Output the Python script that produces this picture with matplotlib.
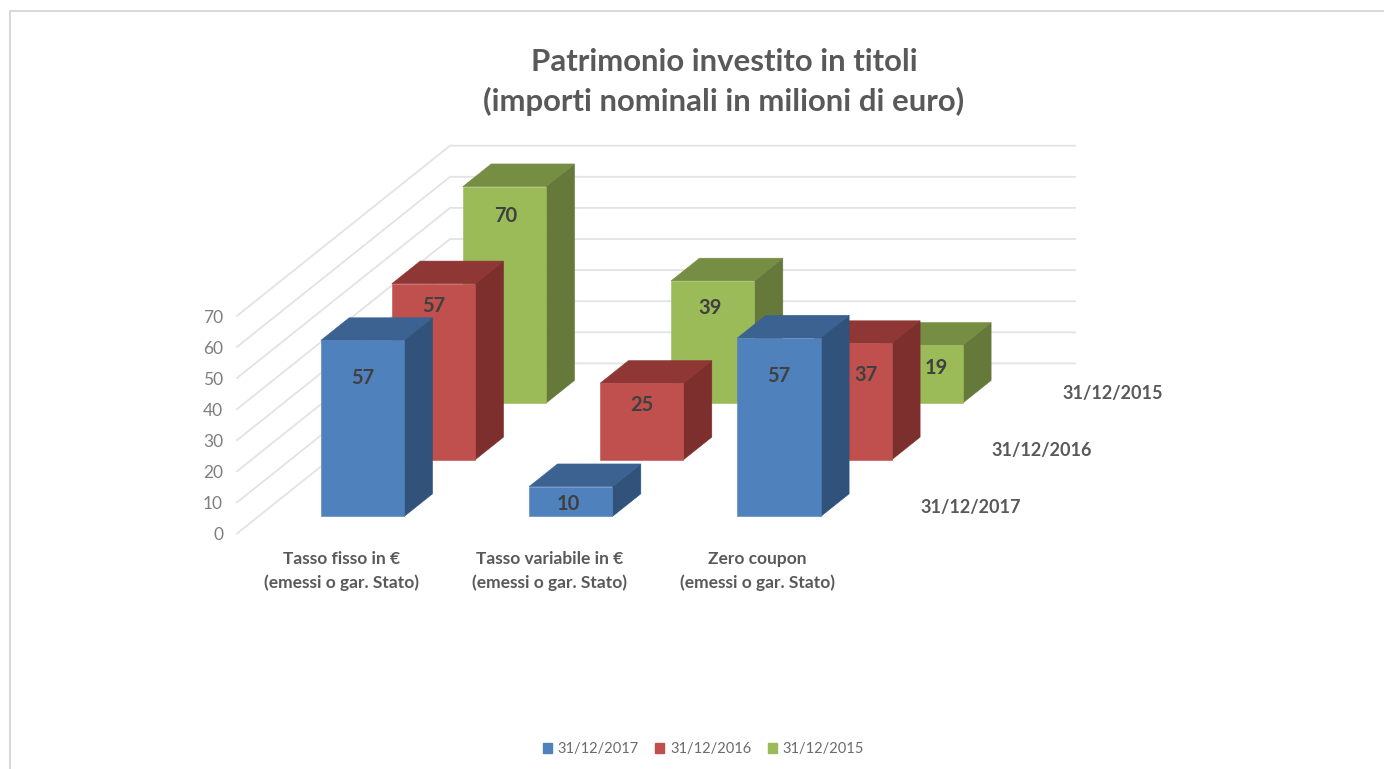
import matplotlib.pyplot as plt
from matplotlib.patches import Patch

categories = ['Tasso fisso in €\n(emessi o gar. Stato)',
              'Tasso variabile in €\n(emessi o gar. Stato)',
              'Zero coupon\n(emessi o gar. Stato)']
series_names = ['31/12/2017', '31/12/2016', '31/12/2015']
values_2017 = [56.6, 9.6, 57.4]
values_2016 = [56.6, 24.6, 37.4]
values_2015 = [69.6, 39.3, 18.6]
y_ticks = [0, 10, 20, 30, 40, 50, 60, 70]

title = 'Patrimonio investito in titoli\n(importi nominali in milioni di euro)'

# colours per series: front, top, side
colors = [('#4F81BD', '#3B6290', '#30527B'),
          ('#C0504D', '#8E3735', '#7D2F2E'),
          ('#9BBB59', '#768D44', '#65793B')]
GRID = '#E3E3E3'
TEXT = '#595959'
LABEL = '#404040'

# oblique projection, the picture is worked out in pixels
X0, Y0 = 237, 533.5
CAT_W = 208.3
DEPTH_X, DEPTH_Y = 71, 56.7
UNIT = 3.11


def project(cat, depth, value):
    return X0 + cat * CAT_W + depth * DEPTH_X, Y0 - depth * DEPTH_Y - value * UNIT


def draw_bar(ax, cat, depth, value, cols):
    x1, x2 = cat + 0.3, cat + 0.7
    d1, d2 = depth + 0.3, depth + 0.7
    faces = [
        (cols[2], [(x2, d1, 0), (x2, d2, 0), (x2, d2, value), (x2, d1, value)]),
        (cols[1], [(x1, d1, value), (x2, d1, value), (x2, d2, value), (x1, d2, value)]),
        (cols[0], [(x1, d1, 0), (x2, d1, 0), (x2, d1, value), (x1, d1, value)]),
    ]
    for col, face in faces:
        pts = [project(*p) for p in face]
        ax.fill([p[0] for p in pts], [p[1] for p in pts], color=col, lw=0.4, zorder=3)


fig = plt.figure(figsize=(13.84, 7.69), dpi=100)
ax = fig.add_axes([0, 0, 1, 1])
ax.set_xlim(0, 1384)
ax.set_ylim(769, 0)
ax.axis('off')
plt.rcParams['font.family'] = ['Lato', 'DejaVu Sans']

# chart frame
ax.plot([10, 10, 1384], [769, 10.5, 10.5], color='#D9D9D9', lw=1.5)

# walls
n_series = len(series_names)
n_cats = len(categories)
for t in y_ticks:
    xs, ys = zip(project(0, 0, t), project(0, n_series, t), project(n_cats, n_series, t))
    ax.plot(xs, ys, color=GRID, lw=1.3, zorder=1)
    x, y = project(0, 0, t)
    ax.text(x - 14, y + 2, str(t), ha='right', va='center', color='#7F7F7F', fontsize=12.5)

# bars, back row first
all_values = [values_2017, values_2016, values_2015]
for depth in range(n_series - 1, -1, -1):
    for cat in range(n_cats):
        draw_bar(ax, cat, depth, all_values[depth][cat], colors[depth])

# data labels, nudged by hand as in the original where a bar hides another
nudge = {(0, 0): (0, 38), (1, 0): (-2, 17), (2, 0): (0, 38),
         (0, 1): (0, 22), (1, 1): (0, 22), (2, 1): (16, 32),
         (0, 2): (1, 29), (1, 2): (-3, 27), (2, 2): (15, 23)}
for depth in range(n_series):
    for cat in range(n_cats):
        v = all_values[depth][cat]
        x, y = project(cat + 0.5, depth + 0.3, v)
        dx, dy = nudge[(cat, depth)]
        ax.text(x + dx, y + dy, str(round(v)), ha='center', va='center',
                color=LABEL, fontsize=14.5, fontweight='bold', zorder=5)

# category labels
for cat, name in enumerate(categories):
    x, _ = project(cat + 0.5, 0, 0)
    ax.text(x, 571, name, ha='center', va='center', color=TEXT, fontsize=12.5,
            fontweight='bold', linespacing=1.5)

# series labels on the depth axis
for depth, name in enumerate(series_names):
    x, y = project(n_cats, depth + 0.5, 0)
    ax.text(x + 73, y + 2, name, ha='center', va='center', color=TEXT, fontsize=13,
            fontweight='bold')

ax.text(724, 82, title, ha='center', va='center', color=TEXT, fontsize=22.4,
        fontweight='bold', linespacing=1.45)

handles = [Patch(color=c[0], label=n) for c, n in zip(colors, series_names)]
ax.legend(handles=handles, ncol=3, loc='center', bbox_to_anchor=(703.5, 749),
          bbox_transform=ax.transData, frameon=False, fontsize=10.5, labelcolor='#6B6B6B',
          handlelength=0.62, handleheight=0.62, handletextpad=0.4, columnspacing=1.13)

fig.savefig('out.png', dpi=100)
